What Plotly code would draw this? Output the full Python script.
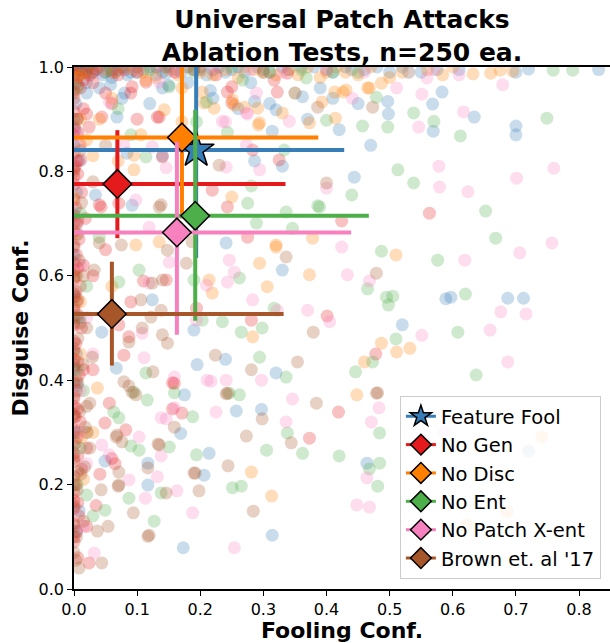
import plotly.graph_objects as go

# ---------------- data ----------------
names = ["Feature Fool", "No Gen", "No Disc", "No Ent", "No Patch X-ent", "Brown et. al '17"]
colors = ["#377eb8", "#e41a1c", "#ff7f00", "#4daf4a", "#f781bf", "#a65628"]
symbols = ["star", "diamond", "diamond", "diamond", "diamond", "diamond"]

mean_x = [0.1935, 0.0687, 0.171, 0.192, 0.163, 0.060]
mean_y = [0.841, 0.776, 0.865, 0.715, 0.683, 0.527]
x_lo = [0.0, 0.0, 0.0, 0.0, 0.0, 0.0]
x_hi = [0.428, 0.335, 0.387, 0.467, 0.439, 0.332]
y_lo = [0.634, 0.672, 0.71, 0.514, 0.487, 0.428]
y_hi = [1.0, 0.879, 1.0, 0.918, 0.857, 0.627]

ff_pts = [
    (0.0, 1.0), (0.005, 0.995), (0.01, 0.99), (0.015, 1.0), (0.02, 0.995), (0.03, 0.99), (0.04, 1.0),
    (0.06, 0.995), (0.08, 1.0), (0.1, 0.99), (0.12, 1.0), (0.16, 0.995), (0.2, 1.0), (0.24, 0.99),
    (0.29, 1.0), (0.34, 0.995), (0.38, 1.0), (0.44, 0.995), (0.48, 1.0), (0.55, 0.99), (0.61, 0.995),
    (0.70, 0.99), (0.831, 0.995), (0.0, 0.98), (0.003, 0.97), (0.01, 1.0), (0.025, 1.0), (0.05, 0.99),
    (0.07, 0.995), (0.09, 0.99), (0.14, 0.99), (0.18, 1.0), (0.22, 0.995), (0.26, 1.0), (0.31, 0.99),
    (0.36, 1.0), (0.41, 0.99), (0.46, 0.995), (0.52, 1.0), (0.575, 0.995),
    (0.0, 0.995), (0.008, 0.985), (0.012, 0.995), (0.018, 0.99), (0.035, 0.995), (0.045, 0.985),
    (0.055, 1.0), (0.065, 0.99), (0.075, 1.0), (0.085, 0.985), (0.11, 0.995), (0.13, 0.985),
    (0.15, 1.0), (0.17, 0.99), (0.19, 0.995), (0.21, 0.985), (0.23, 1.0), (0.25, 0.995),
    (0.27, 0.99), (0.3, 0.995), (0.33, 1.0), (0.4, 0.995), (0.43, 1.0), (0.5, 0.99),
    (0.02, 0.97), (0.04, 0.96), (0.06, 0.98), (0.08, 0.95), (0.12, 0.93), (0.14, 0.96), (0.18, 0.97),
    (0.22, 0.94), (0.26, 0.92), (0.28, 0.97), (0.31, 0.93), (0.35, 0.95), (0.37, 0.90), (0.39, 0.96),
    (0.42, 0.88), (0.45, 0.93), (0.583, 0.952), (0.568, 0.929), (0.634, 0.904), (0.569, 0.877),
    (0.70, 0.887), (0.70, 0.870), (0.72, 0.996), (0.47, 0.85), (0.444, 0.789), (0.286, 0.82),
    (0.33, 0.81), (0.314, 0.877), (0.32, 0.918), (0.216, 0.955), (0.286, 0.934), (0.362, 0.943),
    (0.41, 0.94), (0.497, 0.934), (0.498, 0.91),
    (0.034, 0.755), (0.092, 0.735), (0.02, 0.95), (0.058, 0.966), (0.076, 0.94), (0.068, 0.904),
    (0.146, 0.988), (0.15, 0.965), (0.14, 0.83), (0.084, 0.835),
    (0.124, 0.554), (0.044, 0.492), (0.067, 0.423), (0.175, 0.372), (0.19, 0.496), (0.195, 0.43),
    (0.24, 0.44), (0.32, 0.414), (0.33, 0.611), (0.241, 0.663), (0.117, 0.241), (0.117, 0.199),
    (0.049, 0.245), (0.173, 0.079), (0.021, 0.30), (0.169, 0.298), (0.214, 0.26), (0.314, 0.103),
    (0.257, 0.341), (0.297, 0.344), (0.206, 0.218), (0.52, 0.506), (0.589, 0.556), (0.597, 0.559),
    (0.687, 0.557), (0.712, 0.557), (0.72, 0.264), (0.464, 0.241),
    (0.003, 0.93), (0.002, 0.88), (0.008, 0.82), (0.004, 0.76), (0.006, 0.68), (0.003, 0.6),
    (0.007, 0.52), (0.004, 0.45), (0.005, 0.39), (0.003, 0.3), (0.008, 0.15), (0.004, 0.11),
    (0.0, 0.9), (0.0, 0.85), (0.0, 0.72), (0.0, 0.64), (0.0, 0.56), (0.0, 0.42),
]

nogen_pts = [
    (0.0, 1.0), (0.005, 0.98), (0.01, 0.96), (0.0, 0.94), (0.015, 0.92), (0.005, 0.9), (0.0, 0.87),
    (0.01, 0.85), (0.005, 0.82), (0.0, 0.79), (0.012, 0.76), (0.003, 0.73), (0.0, 0.7), (0.008, 0.67),
    (0.004, 0.64), (0.0, 0.61), (0.01, 0.58), (0.005, 0.55), (0.0, 0.52), (0.012, 0.5), (0.003, 0.47),
    (0.0, 0.44), (0.008, 0.41), (0.004, 0.38), (0.0, 0.35), (0.01, 0.32), (0.005, 0.29), (0.0, 0.26),
    (0.012, 0.23), (0.003, 0.2), (0.0, 0.17), (0.008, 0.14), (0.004, 0.11), (0.0, 0.09), (0.006, 0.06),
    (0.002, 0.33), (0.002, 0.56), (0.002, 0.81), (0.015, 0.62), (0.015, 0.42), (0.02, 0.27),
    (0.02, 0.12), (0.018, 0.71), (0.02, 0.91),
    (0.0, 0.985), (0.0, 0.955), (0.0, 0.915), (0.0, 0.885), (0.0, 0.835), (0.0, 0.805),
    (0.0, 0.775), (0.0, 0.745), (0.0, 0.715), (0.0, 0.685), (0.0, 0.655), (0.0, 0.625),
    (0.0, 0.595), (0.0, 0.565), (0.0, 0.535), (0.0, 0.505), (0.0, 0.475), (0.0, 0.455),
    (0.0, 0.425), (0.0, 0.395), (0.0, 0.365), (0.0, 0.335), (0.0, 0.305), (0.0, 0.275),
    (0.0, 0.245), (0.0, 0.215), (0.0, 0.185), (0.0, 0.155), (0.0, 0.125), (0.0, 0.1),
    (0.006, 0.965), (0.006, 0.875), (0.006, 0.795), (0.006, 0.705), (0.006, 0.615),
    (0.006, 0.525), (0.006, 0.435), (0.006, 0.345), (0.006, 0.255), (0.006, 0.165),
    (0.02, 0.99), (0.04, 1.0), (0.06, 0.99), (0.08, 0.995), (0.1, 0.99), (0.13, 1.0), (0.16, 0.99),
    (0.19, 0.995), (0.225, 0.985), (0.338, 0.988), (0.03, 0.97), (0.05, 0.95),
    (0.01, 0.995), (0.015, 0.975), (0.025, 0.985), (0.035, 0.995), (0.07, 0.985),
    (0.044, 0.904), (0.1, 0.9), (0.135, 0.904), (0.09, 0.95), (0.114, 0.971), (0.06, 0.93),
    (0.024, 0.885), (0.043, 0.732), (0.071, 0.739), (0.011, 0.822), (0.243, 0.952), (0.25, 0.931),
    (0.325, 0.822), (0.322, 0.952), (0.283, 0.841), (0.132, 0.904), (0.092, 0.962), (0.219, 0.764),
    (0.243, 0.732), (0.275, 0.674), (0.14, 0.828), (0.25, 0.962), (0.317, 0.975), (0.146, 0.592),
    (0.194, 0.538), (0.087, 0.483), (0.071, 0.506), (0.079, 0.448), (0.401, 0.523), (0.156, 0.395),
    (0.04, 0.736), (0.281, 0.515), (0.156, 0.345), (0.171, 0.337), (0.082, 0.305), (0.049, 0.318),
    (0.056, 0.356), (0.041, 0.22), (0.024, 0.05), (0.373, 0.289), (0.159, 0.394), (0.065, 0.24),
    (0.563, 0.72), (0.424, 0.705), (0.478, 0.45), (0.419, 0.339), (0.03, 0.6), (0.05, 0.65),
    (0.03, 0.42), (0.06, 0.25), (0.035, 0.16), (0.09, 0.55), (0.11, 0.59),
]

nodisc_pts = [
    (0.02, 0.99), (0.05, 0.995), (0.08, 1.0), (0.11, 0.99), (0.15, 0.995), (0.18, 1.0), (0.2, 0.99),
    (0.24, 0.995), (0.27, 1.0), (0.3, 0.99), (0.34, 0.995), (0.37, 1.0), (0.4, 0.99), (0.43, 0.99),
    (0.47, 1.0), (0.52, 0.99), (0.56, 0.995), (0.6, 1.0), (0.632, 0.987), (0.66, 0.988),
    (0.675, 0.994), (0.695, 0.992), (0.584, 0.985), (0.5, 0.98), (0.45, 0.985), (0.39, 0.98),
    (0.32, 0.985), (0.26, 0.98), (0.22, 0.985), (0.13, 0.98),
    (0.0, 0.995), (0.01, 0.985), (0.035, 1.0), (0.065, 0.99), (0.095, 0.995), (0.165, 0.985),
    (0.285, 0.995), (0.355, 0.985), (0.415, 1.0),
    (0.413, 0.952), (0.431, 0.956), (0.465, 0.96), (0.487, 0.969), (0.414, 0.902), (0.206, 0.931),
    (0.222, 0.921), (0.254, 0.927), (0.251, 0.937), (0.291, 0.921), (0.292, 0.889), (0.33, 0.912),
    (0.373, 0.893), (0.393, 0.933), (0.426, 0.952), (0.468, 0.96), (0.203, 0.952), (0.171, 0.96),
    (0.143, 0.918), (0.294, 0.893), (0.27, 0.923), (0.106, 0.87), (0.095, 0.803), (0.095, 0.831),
    (0.25, 0.751), (0.171, 0.895), (0.114, 0.975), (0.06, 0.94), (0.04, 0.9), (0.03, 0.83),
    (0.07, 0.82), (0.35, 0.95),
    (0.51, 0.64), (0.32, 0.659), (0.214, 0.592), (0.219, 0.567), (0.294, 0.624), (0.306, 0.579),
    (0.32, 0.655), (0.098, 0.659), (0.135, 0.665), (0.373, 0.602), (0.283, 0.483), (0.378, 0.672),
    (0.487, 0.471), (0.511, 0.454), (0.532, 0.461), (0.46, 0.435), (0.448, 0.372), (0.741, 0.291),
    (0.686, 0.148), (0.622, 0.123), (0.281, 0.224), (0.313, 0.178), (0.037, 0.385), (0.06, 0.58),
    (0.005, 0.98), (0.01, 0.9), (0.02, 0.86), (0.005, 0.68), (0.01, 0.55), (0.012, 0.29),
    (0.005, 0.6), (0.02, 0.3), (0.03, 0.3), (0.015, 0.21), (0.0, 0.75), (0.01, 0.45),
]

noent_pts = [
    (0.05, 0.99), (0.12, 0.995), (0.19, 0.99), (0.25, 1.0), (0.31, 0.99), (0.36, 0.995), (0.41, 0.99),
    (0.45, 0.99), (0.759, 0.994), (0.79, 0.994), (0.267, 0.975), (0.368, 0.979), (0.53, 0.99),
    (0.457, 0.887), (0.497, 0.885), (0.479, 0.942), (0.538, 0.912), (0.57, 0.896), (0.612, 0.868),
    (0.749, 0.902), (0.513, 0.803), (0.538, 0.778), (0.44, 0.755), (0.652, 0.724), (0.668, 0.672),
    (0.487, 0.647), (0.576, 0.63), (0.4, 0.898), (0.281, 0.772), (0.275, 0.739), (0.289, 0.701),
    (0.333, 0.841), (0.243, 0.875), (0.151, 0.962), (0.194, 0.895), (0.21, 0.933), (0.114, 0.828),
    (0.04, 0.674), (0.336, 0.722), (0.389, 0.732), (0.07, 0.92), (0.09, 0.87),
    (0.465, 0.575), (0.495, 0.559), (0.498, 0.544), (0.505, 0.561), (0.62, 0.565), (0.608, 0.492),
    (0.51, 0.479), (0.473, 0.435), (0.446, 0.416), (0.637, 0.41), (0.103, 0.611), (0.071, 0.588),
    (0.19, 0.592), (0.346, 0.691), (0.386, 0.734), (0.235, 0.512), (0.265, 0.492), (0.298, 0.5),
    (0.317, 0.538), (0.262, 0.596), (0.294, 0.444), (0.336, 0.406), (0.095, 0.377), (0.246, 0.375),
    (0.114, 0.414), (0.203, 0.515),
    (0.305, 0.266), (0.362, 0.26), (0.338, 0.299), (0.194, 0.257), (0.151, 0.272), (0.138, 0.184),
    (0.127, 0.13), (0.087, 0.174), (0.049, 0.151), (0.251, 0.194), (0.265, 0.197), (0.188, 0.33),
    (0.103, 0.266), (0.09, 0.274), (0.071, 0.328), (0.063, 0.339), (0.116, 0.362), (0.159, 0.376),
    (0.262, 0.372), (0.42, 0.255), (0.484, 0.299), (0.484, 0.241), (0.481, 0.197), (0.544, 0.167),
    (0.468, 0.23),
    (0.005, 0.96), (0.01, 0.72), (0.02, 0.58), (0.01, 0.52), (0.005, 0.42), (0.015, 0.38),
    (0.01, 0.27), (0.02, 0.18), (0.03, 0.14), (0.005, 0.2),
]

noxent_pts = [
    (0.04, 0.99), (0.1, 0.995), (0.16, 0.99), (0.22, 1.0), (0.28, 0.995), (0.33, 0.99), (0.4, 0.995),
    (0.46, 0.99), (0.53, 0.99), (0.57, 0.995), (0.61, 0.985), (0.559, 0.979),
    (0.551, 0.948), (0.617, 0.914), (0.679, 0.966), (0.546, 0.885), (0.578, 0.81), (0.76, 0.806),
    (0.701, 0.787), (0.441, 0.94), (0.511, 0.96), (0.579, 0.77), (0.624, 0.761), (0.275, 0.91),
    (0.235, 0.896), (0.241, 0.808), (0.146, 0.807), (0.124, 0.847), (0.135, 0.971), (0.056, 0.933),
    (0.4, 0.768), (0.079, 0.851), (0.294, 0.803), (0.098, 0.745), (0.119, 0.693), (0.24, 0.895),
    (0.273, 0.912), (0.273, 0.851), (0.341, 0.896), (0.289, 0.95),
    (0.757, 0.663), (0.706, 0.644), (0.619, 0.63), (0.676, 0.531), (0.716, 0.527), (0.659, 0.496),
    (0.551, 0.486), (0.687, 0.435), (0.433, 0.602), (0.468, 0.59), (0.424, 0.655), (0.246, 0.63),
    (0.254, 0.607), (0.243, 0.588), (0.21, 0.582), (0.151, 0.626), (0.119, 0.586), (0.37, 0.534),
    (0.283, 0.554), (0.108, 0.49), (0.111, 0.443), (0.159, 0.406), (0.211, 0.4), (0.241, 0.4),
    (0.297, 0.4), (0.322, 0.534), (0.405, 0.512), (0.194, 0.515),
    (0.483, 0.347), (0.471, 0.32), (0.587, 0.301), (0.464, 0.213), (0.448, 0.161), (0.468, 0.157),
    (0.346, 0.364), (0.225, 0.339), (0.336, 0.32), (0.146, 0.326), (0.138, 0.255), (0.132, 0.215),
    (0.163, 0.188), (0.113, 0.174), (0.188, 0.146), (0.254, 0.079), (0.032, 0.069), (0.087, 0.209),
    (0.103, 0.291), (0.044, 0.276), (0.056, 0.257), (0.138, 0.328), (0.217, 0.398), (0.159, 0.347),
    (0.005, 0.87), (0.01, 0.62), (0.02, 0.52), (0.03, 0.45), (0.01, 0.38), (0.02, 0.24),
    (0.015, 0.12), (0.005, 0.7), (0.01, 0.3),
]

brown_pts = [
    (0.0, 0.95), (0.005, 0.9), (0.01, 0.84), (0.0, 0.8), (0.012, 0.74), (0.004, 0.7), (0.0, 0.66),
    (0.008, 0.63), (0.015, 0.6), (0.003, 0.57), (0.0, 0.54), (0.01, 0.51), (0.006, 0.48), (0.0, 0.46),
    (0.014, 0.43), (0.004, 0.4), (0.0, 0.37), (0.009, 0.34), (0.018, 0.31), (0.002, 0.28), (0.0, 0.25),
    (0.011, 0.22), (0.005, 0.19), (0.0, 0.16), (0.015, 0.13), (0.004, 0.1), (0.0, 0.07), (0.02, 0.35),
    (0.02, 0.5), (0.025, 0.27),
    (0.0, 0.6), (0.0, 0.51), (0.0, 0.43), (0.0, 0.33), (0.0, 0.3), (0.0, 0.2), (0.0, 0.12),
    (0.003, 0.055), (0.006, 0.225), (0.006, 0.395), (0.006, 0.555),
    (0.017, 0.234), (0.043, 0.19), (0.071, 0.199), (0.094, 0.146), (0.054, 0.12), (0.037, 0.111),
    (0.044, 0.05), (0.008, 0.04), (0.119, 0.103), (0.146, 0.184), (0.135, 0.276), (0.159, 0.31),
    (0.068, 0.295), (0.076, 0.282), (0.071, 0.224), (0.19, 0.222), (0.117, 0.232), (0.241, 0.374),
    (0.298, 0.326), (0.273, 0.293), (0.344, 0.28), (0.384, 0.356), (0.244, 0.236), (0.192, 0.222),
    (0.198, 0.188), (0.284, 0.149), (0.133, 0.278), (0.098, 0.372), (0.087, 0.389), (0.117, 0.101),
    (0.025, 0.356), (0.067, 0.291), (0.07, 0.197), (0.481, 0.376), (0.106, 0.554), (0.108, 0.5),
    (0.14, 0.487), (0.122, 0.521), (0.087, 0.473), (0.079, 0.397), (0.092, 0.377), (0.125, 0.416),
    (0.138, 0.534), (0.032, 0.611), (0.04, 0.663), (0.075, 0.659), (0.178, 0.624), (0.148, 0.649),
    (0.029, 0.444), (0.124, 0.586), (0.14, 0.592), (0.224, 0.448), (0.243, 0.375), (0.354, 0.435),
    (0.379, 0.492), (0.281, 0.42), (0.138, 0.736), (0.148, 0.471), (0.187, 0.665), (0.135, 0.732),
    (0.336, 0.636), (0.4, 0.778), (0.23, 0.812), (0.386, 0.923), (0.473, 0.923), (0.479, 0.605),
    (0.479, 0.375), (0.05, 0.85), (0.03, 0.78),
    (0.03, 0.99), (0.1, 1.0), (0.2, 0.995), (0.3, 0.99), (0.145, 1.0),
]

clouds = [ff_pts, nogen_pts, nodisc_pts, noent_pts, noxent_pts, brown_pts]

# ---------------- figure ----------------
FONT = "DejaVu Sans"
fig = go.Figure()

for pts, col in zip(clouds, colors):
    fig.add_trace(go.Scatter(
        x=[p[0] for p in pts], y=[p[1] for p in pts], mode="markers",
        marker=dict(size=13, color=col, opacity=0.27, line=dict(width=0)),
        showlegend=False, hoverinfo="skip",
    ))

for i in range(len(names)):
    fig.add_trace(go.Scatter(
        x=[mean_x[i]], y=[mean_y[i]], mode="lines+markers", name=names[i],
        line=dict(color=colors[i], width=3),
        marker=dict(symbol=symbols[i], size=27 if symbols[i] == "star" else 22,
                    color=colors[i], line=dict(color="black", width=1.5)),
        error_x=dict(type="data", symmetric=False,
                     array=[x_hi[i] - mean_x[i]], arrayminus=[mean_x[i] - x_lo[i]],
                     color=colors[i], thickness=4, width=0),
        error_y=dict(type="data", symmetric=False,
                     array=[y_hi[i] - mean_y[i]], arrayminus=[mean_y[i] - y_lo[i]],
                     color=colors[i], thickness=4, width=0),
        cliponaxis=True,
    ))

fig.update_layout(
    width=610, height=643,
    margin=dict(l=74, r=0, t=67, b=54),
    paper_bgcolor="white", plot_bgcolor="white",
    font=dict(family=FONT, size=16, color="black"),
    title=dict(text="<b>Universal Patch Attacks<br>Ablation Tests, n=250 ea.</b>",
               x=0.5, xref="paper", xanchor="center",
               y=1 - 28 / 643, yref="container", yanchor="top",
               font=dict(family=FONT, size=25, color="black")),
    legend=dict(x=0.983, y=0.019, xanchor="right", yanchor="bottom",
                bgcolor="rgba(255,255,255,0.8)", bordercolor="#cccccc", borderwidth=1,
                font=dict(family=FONT, size=19.5, color="black"), itemsizing="trace",
                tracegroupgap=0),
    showlegend=True,
)
fig.update_xaxes(
    range=[0, 0.849], tickmode="array", tickvals=[i / 10 for i in range(9)],
    ticktext=[f"{i / 10:.1f}" for i in range(9)],
    showgrid=False, zeroline=False, showline=True, mirror=True, linecolor="black", linewidth=1.5,
    ticks="outside", ticklen=5, tickwidth=1.2, tickcolor="black",
    title=dict(text="<b>Fooling Conf.</b>", font=dict(family=FONT, size=22), standoff=5),
)
fig.update_yaxes(
    range=[0, 1.0], tickmode="array", tickvals=[0, 0.2, 0.4, 0.6, 0.8, 1.0],
    ticktext=["0.0", "0.2", "0.4", "0.6", "0.8", "1.0"],
    showgrid=False, zeroline=False, showline=True, mirror=False, linecolor="black", linewidth=1.5,
    ticks="outside", ticklen=5, tickwidth=1.2, tickcolor="black",
    title=dict(text="<b>Disguise Conf.</b>", font=dict(family=FONT, size=22), standoff=4),
)

fig.write_html("out.html", config={"displayModeBar": False},
               post_script="document.body.style.margin='0';document.body.style.overflow='hidden';")
